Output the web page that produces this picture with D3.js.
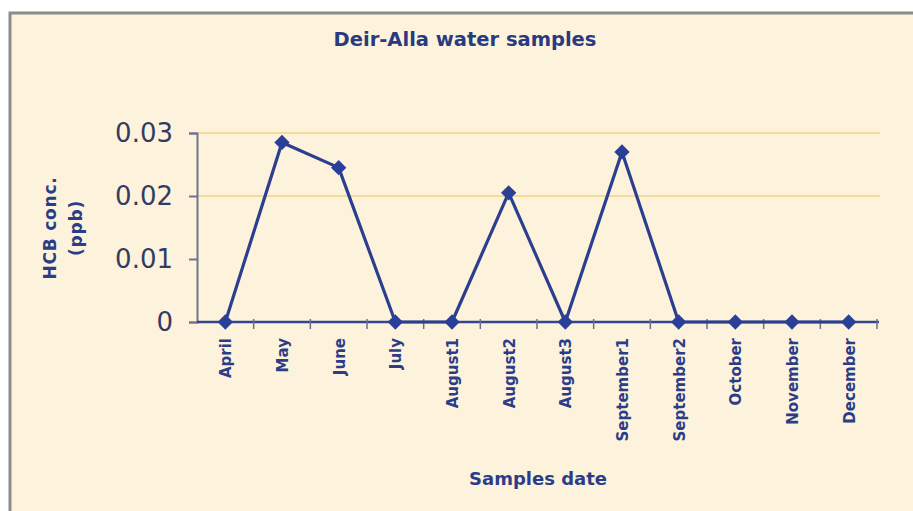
<!DOCTYPE html>
<html>
<head>
<meta charset="utf-8">
<script src="https://cdn.jsdelivr.net/npm/d3@7"></script>
<style>
  body { margin: 0; background: #fff; }
  svg { display: block; }
</style>
</head>
<body>
<div id="container"></div>
<script>
const months = ['April', 'May', 'June', 'July', 'August1', 'August2', 'August3',
  'September1', 'September2', 'October', 'November', 'December'];
const hcb = [0, 0.0285, 0.0245, 0, 0, 0.0205, 0, 0.027, 0, 0, 0, 0];
const yTicks = [0, 0.01, 0.02, 0.03];
const gridTicks = [0.02, 0.03];

const width = 913;
const height = 511;
const margin = { top: 133, bottom: 189, left: 197, right: 35 };
const font = 'DejaVu Sans, sans-serif';

const svg = d3.select('#container')
  .append('svg')
  .attr('width', width)
  .attr('height', height);

// frame
svg.append('rect')
  .attr('x', 10).attr('y', 13)
  .attr('width', width).attr('height', height)
  .attr('fill', '#fdf3dc')
  .attr('stroke', '#8c8c8c')
  .attr('stroke-width', 3);

const x = d3.scaleBand()
  .domain(months)
  .range([margin.left, 877]);

const y = d3.scaleLinear()
  .domain([0, 0.03])
  .range([height - margin.bottom, margin.top]);

// grid lines
svg.append('g')
  .selectAll('line')
  .data(gridTicks)
  .join('line')
    .attr('x1', margin.left)
    .attr('x2', 880)
    .attr('y1', d => y(d))
    .attr('y2', d => y(d))
    .attr('stroke', '#f3dc98')
    .attr('stroke-width', 2);

// y axis
const yAxis = svg.append('g')
  .attr('transform', `translate(${margin.left},0)`)
  .call(d3.axisLeft(y).tickValues(yTicks).tickFormat(d => d === 0 ? '0' : d3.format('.2f')(d)).tickSize(8).tickPadding(16));
yAxis.select('.domain').attr('stroke', '#70748c').attr('stroke-width', 2);
yAxis.selectAll('.tick line').attr('stroke', '#70748c').attr('stroke-width', 2);
yAxis.selectAll('text')
  .attr('font-family', font)
  .attr('font-size', '26px')
  .attr('fill', '#343b62');

// x axis with ticks at band edges
const xg = svg.append('g')
  .attr('transform', `translate(0,${y(0)})`);
xg.append('line')
  .attr('x1', margin.left).attr('x2', 879)
  .attr('stroke', '#34458f').attr('stroke-width', 2.5);
xg.selectAll('.edge')
  .data(months)
  .join('line')
    .attr('class', 'edge')
    .attr('x1', d => x(d) + x.bandwidth())
    .attr('x2', d => x(d) + x.bandwidth())
    .attr('y1', -3).attr('y2', 7)
    .attr('stroke', '#6a6f8a').attr('stroke-width', 1.5);
xg.selectAll('.lbl')
  .data(months)
  .join('text')
    .attr('class', 'lbl')
    .attr('transform', d => `translate(${x(d) + x.bandwidth() / 2 + 6},16) rotate(-90)`)
    .attr('text-anchor', 'end')
    .attr('font-family', font)
    .attr('font-weight', 'bold')
    .attr('font-size', '15px')
    .attr('fill', '#2b3d88')
    .text(d => d);

// line
const line = d3.line()
  .x((d, i) => x(months[i]) + x.bandwidth() / 2)
  .y(d => y(d));

svg.append('path')
  .datum(hcb)
  .attr('d', line)
  .attr('fill', 'none')
  .attr('stroke', '#2c3f8e')
  .attr('stroke-width', 3.2)
  .attr('stroke-linejoin', 'round');

svg.append('g')
  .selectAll('path')
  .data(hcb)
  .join('path')
    .attr('d', d3.symbol(d3.symbolDiamond2, 150))
    .attr('transform', (d, i) => `translate(${x(months[i]) + x.bandwidth() / 2},${y(d)})`)
    .attr('fill', '#2a3f98');

// titles
svg.append('text')
  .attr('x', 465).attr('y', 46)
  .attr('text-anchor', 'middle')
  .attr('font-family', font)
  .attr('font-weight', 'bold')
  .attr('font-size', '19.5px')
  .attr('fill', '#2a3a80')
  .text('Deir-Alla water samples');

svg.append('text')
  .attr('x', 538).attr('y', 485)
  .attr('text-anchor', 'middle')
  .attr('font-family', font)
  .attr('font-weight', 'bold')
  .attr('font-size', '18px')
  .attr('fill', '#2b3d88')
  .text('Samples date');

const yTitle = svg.append('text')
  .attr('transform', 'translate(56,228) rotate(-90)')
  .attr('text-anchor', 'middle')
  .attr('font-family', font)
  .attr('font-weight', 'bold')
  .attr('font-size', '17px')
  .attr('letter-spacing', '0.8px')
  .attr('fill', '#2b3d88');
yTitle.append('tspan').attr('x', 0).attr('dy', 0).text('HCB conc.');
yTitle.append('tspan').attr('x', 0).attr('dy', 26).text('(ppb)');
</script>
</body>
</html>
